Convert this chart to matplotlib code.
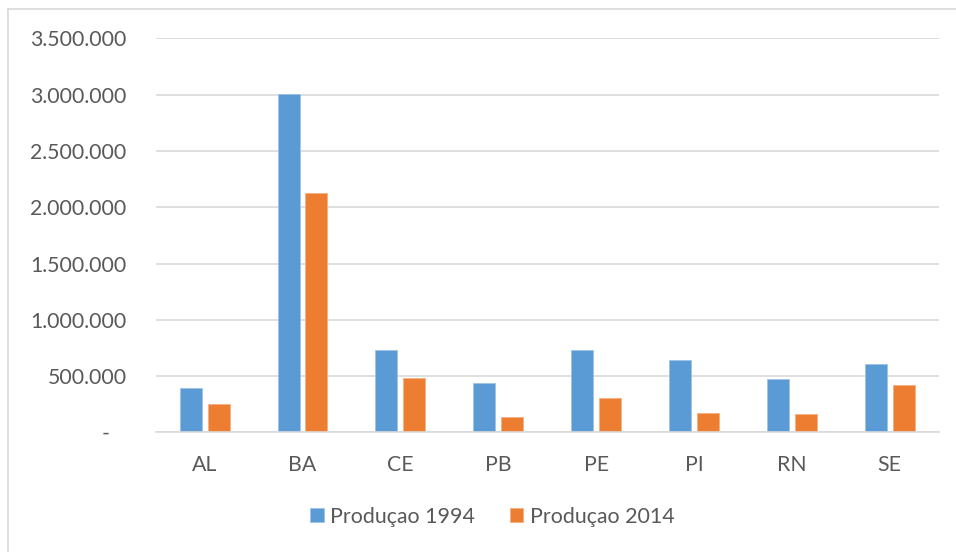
import numpy as np
import matplotlib
matplotlib.use("Agg")
import matplotlib.pyplot as plt
from matplotlib.ticker import FuncFormatter
from matplotlib.lines import Line2D

# dados
estados = ["AL", "BA", "CE", "PB", "PE", "PI", "RN", "SE"]
prod_1994 = [391000, 3007000, 734000, 436000, 729000, 643000, 474000, 604000]
prod_2014 = [249000, 2130000, 480000, 133000, 302000, 174000, 160000, 418000]
yticks = [0, 500000, 1000000, 1500000, 2000000, 2500000, 3000000, 3500000]

plt.rcParams['font.family'] = ['Lato', 'DejaVu Sans']

cinza_txt = '#595959'
cinza_lin = '#D9D9D9'

fig = plt.figure(figsize=(9.56, 5.52), dpi=100)
ax = fig.add_axes([0.1629, 0.2168, 0.8190, 0.7135])

x = np.arange(len(estados))
w = 0.225
ax.bar(x - 0.1425, prod_1994, w, color='#5B9BD5', edgecolor='#9DC3E6', linewidth=0.6,
       label='Produçao 1994', zorder=3)
ax.bar(x + 0.1425, prod_2014, w, color='#ED7D31', edgecolor='#F4B183', linewidth=0.6,
       label='Produçao 2014', zorder=3)

ax.set_xlim(-0.5, len(estados) - 0.5)
ax.set_ylim(0, 3500000)
ax.set_yticks(yticks)

def fmt(v, pos):
    if v == 0:
        return '-   '
    return f"{int(v):,}".replace(',', '.')

ax.yaxis.set_major_formatter(FuncFormatter(fmt))
ax.set_xticks(x)
ax.set_xticklabels(estados)

ax.grid(axis='y', color=cinza_lin, linewidth=1.2, zorder=0)
for s in ['top', 'right', 'left']:
    ax.spines[s].set_visible(False)
ax.spines['bottom'].set_color(cinza_lin)
ax.spines['bottom'].set_linewidth(1.2)
ax.spines['bottom'].set_zorder(4)

ax.tick_params(axis='y', length=0, pad=21, labelsize=15.3, labelcolor=cinza_txt)
ax.tick_params(axis='x', length=0, pad=16, labelsize=15.3, labelcolor=cinza_txt)

# legenda
leg = fig.legend(loc='center', bbox_to_anchor=(0.515, 1 - 516.7 / 552), ncol=2, frameon=False,
                 fontsize=15.4, handlelength=0.65, handleheight=0.65, handletextpad=0.3,
                 columnspacing=1.6, labelcolor=cinza_txt)

# borda do gráfico (recortada)
fig.add_artist(Line2D([7.5 / 956, 7.5 / 956], [0, 1 - 9 / 552], transform=fig.transFigure,
                      color=cinza_lin, linewidth=1.2))
fig.add_artist(Line2D([7.5 / 956, 1], [1 - 9 / 552, 1 - 9 / 552], transform=fig.transFigure,
                      color=cinza_lin, linewidth=1.2))

fig.savefig('out.png', dpi=100, facecolor='white')
